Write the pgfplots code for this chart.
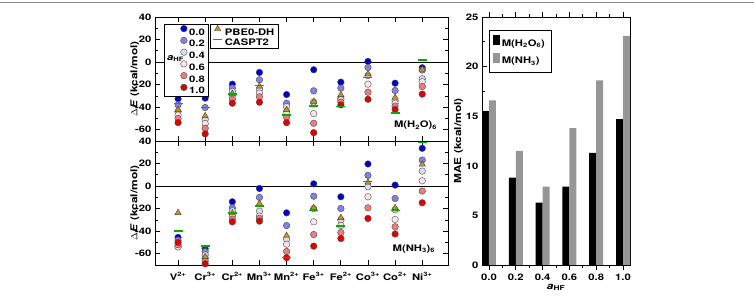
\documentclass[border=0pt]{standalone}
\usepackage{fontspec}
\setmainfont{TeX Gyre Heros}[FakeStretch=1.25]
\usepackage{pgfplots}
\usepackage{pgfplotstable}
\pgfplotsset{compat=1.18}

\definecolor{c00}{RGB}{0,0,200}
\definecolor{c02}{RGB}{130,130,225}
\definecolor{c04}{RGB}{218,218,242}
\definecolor{c06}{RGB}{255,228,228}
\definecolor{c08}{RGB}{236,125,125}
\definecolor{c10}{RGB}{225,0,0}
\definecolor{ctri}{RGB}{205,145,30}
\definecolor{ccas}{RGB}{0,175,0}
\definecolor{cgray}{RGB}{150,150,150}

% columns: x, a_HF = 0.0 ... 1.0, PBE0-DH, CASPT2
\pgfplotstableread{
x a00 a02 a04 a06 a08 a10 pbe cas
0 -32.6 -38.0 -44.0 -47.0 -50.0 -53.7 -42.4 -36.5
1 -32.0 -40.3 -51.0 -54.5 -58.7 -63.7 -47.7 -40.3
2 -19.6 -23.0 -26.0 -30.0 -33.0 -36.5 -28.0 -28.2
3 -9.2 -15.7 -24.0 -27.5 -30.9 -35.6 -21.5 -21.0
4 -28.8 -36.5 -39.5 -44.0 -49.0 -53.7 -42.4 -46.8
5 -6.8 -25.5 -35.5 -45.7 -54.3 -62.6 -35.0 -38.8
6 -17.8 -23.1 -32.0 -33.5 -35.5 -38.0 -29.0 -39.4
7 0.6 -4.8 -12.0 -19.6 -26.7 -33.0 -10.7 -13.7
8 -18.7 -25.2 -34.0 -36.5 -39.0 -42.0 -31.4 -45.3
9 -5.0 -7.0 -14.8 -17.5 -21.7 -28.4 -6.5 2.0
}\water

\pgfplotstableread{
x a00 a02 a04 a06 a08 a10 pbe cas
0 -45.5 -48.0 -53.5 -54.0 -52.0 -50.0 -23.7 -39.7
1 -55.5 -58.0 -61.0 -64.0 -66.5 -69.0 -62.8 -53.3
2 -13.9 -19.3 -22.0 -26.7 -29.3 -31.7 -24.0 -23.7
3 -2.1 -10.0 -22.2 -26.7 -28.7 -31.1 -15.4 -17.8
4 -23.7 -35.0 -47.0 -51.6 -58.0 -63.5 -44.0 -63.4
5 2.0 -9.0 -20.0 -31.7 -43.0 -53.3 -19.3 -21.9
6 -9.5 -19.9 -30.0 -35.0 -41.2 -46.5 -28.1 -35.3
7 19.6 9.5 -0.6 -9.5 -19.3 -28.7 3.3 4.0
8 0.9 -11.0 -21.0 -29.6 -36.1 -42.5 -19.3 -21.6
9 33.5 23.1 13.3 4.7 -4.4 -14.8 19.3 38.5
}\ammonia

\pgfplotsset{
  base/.style={
    scale only axis,
    axis line style={line width=0.9pt},
    every tick/.style={black, line width=0.8pt},
    major tick length=5pt, minor tick length=3pt,
    tick align=inside,
    /pgf/number format/assume math mode=true,
    tick label style={font=\fontsize{9}{10}\selectfont\bfseries},
    label style={font=\fontsize{9.5}{11}\selectfont\bfseries},
  },
  panel/.style={
    base, width=293pt, height=124pt,
    xmin=-0.85, xmax=9.95, ymin=-70, ymax=40,
    xtick={0,...,9}, ytick={-60,-40,...,40}, minor y tick num=1,
    ylabel={$\Delta$\textit{E} (kcal/mol)},
    ylabel style={yshift=-11pt},
  },
  circ/.style={only marks, mark=*, mark size=3.3pt,
    mark options={draw=black!70, line width=0.4pt, fill=#1},
    legend image code/.code={\draw[##1] plot coordinates {(0pt,3.2pt)};}},
  circa/.style={circ=#1,
    legend image code/.code={%
      \draw[##1] plot coordinates {(0pt,3.2pt)};
      \path (-17pt,3.2pt);}},
  tri/.style={only marks, mark=triangle*, mark size=3.6pt,
    mark options={draw=black!75, line width=0.4pt, fill=ctri},
    legend image code/.code={\draw[##1] plot coordinates {(0pt,3.0pt)};}},
  cas/.style={only marks, mark=-, mark size=4.5pt,
    mark options={draw=ccas, line width=1.4pt},
    legend image code/.code={\draw[ccas, line width=1.4pt] (-4.5pt,3.2pt) -- (4.5pt,3.2pt);}},
  leg/.style={legend style={at={(#1,0.944)}, anchor=north west,
    draw=black, line width=0.8pt, fill=white, inner xsep=2pt, inner ysep=1pt,
    row sep=0pt, legend cell align=left,
    nodes={inner sep=2pt, text height=6.5pt, text depth=0pt,
      font=\fontsize{9}{10}\selectfont\bfseries}}},
  barblack/.style={fill=black, draw=none,
    legend image code/.code={\fill[black] (0pt,-1pt) rectangle (6.5pt,9pt);}},
  bargray/.style={fill=cgray, draw=none,
    legend image code/.code={\fill[cgray] (0pt,-1pt) rectangle (6.5pt,9pt);}},
}

\begin{document}
\begin{tikzpicture}
\useasboundingbox (0,0) rectangle (754pt,299pt);
\draw[black!45, line width=1.2pt] (0,296.3pt) -- (754pt,296.3pt);

% ---------- top panel: M(H2O)6 ----------
\begin{axis}[panel, at={(155pt,158pt)}, anchor=south west,
  xticklabels={}, leg=0.031]
\draw[line width=0.8pt] (axis cs:-0.85,0) -- (axis cs:9.95,0);
\addplot[circ=c00] table[x=x,y=a00] {\water};
\addlegendentry{0.0}
\addplot[circ=c02] table[x=x,y=a02] {\water};
\addlegendentry{0.2}
\addplot[circ=c04] table[x=x,y=a04] {\water};
\addlegendentry{0.4}
\addplot[circa=c06] table[x=x,y=a06] {\water};
\addlegendentry{0.6}
\addplot[circ=c08] table[x=x,y=a08] {\water};
\addlegendentry{0.8}
\addplot[circ=c10] table[x=x,y=a10] {\water};
\addlegendentry{1.0}
\node[anchor=base east, font=\fontsize{9}{10}\selectfont\bfseries]
  at (rel axis cs:0.975,0.105) {M(H\textsubscript{2}O)\textsubscript{6}};
\end{axis}

\begin{axis}[panel, at={(155pt,158pt)}, anchor=south west,
  hide axis, leg=0.188]
\addplot[tri] table[x=x,y=pbe] {\water};
\addlegendentry{PBE0-DH}
\addplot[cas] table[x=x,y=cas] {\water};
\addlegendentry{CASPT2}
\node[anchor=base west, inner sep=0pt, font=\fontsize{9}{10}\selectfont\bfseries]
  at (rel axis cs:0.041,0.653) {\textit{a}\textsubscript{HF}};
\end{axis}

% ---------- bottom panel: M(NH3)6 ----------
\begin{axis}[panel, at={(155pt,34pt)}, anchor=south west,
  xticklabel style={yshift=-4pt},
  xticklabels={V\textsuperscript{2+}, Cr\textsuperscript{3+}, Cr\textsuperscript{2+},
    Mn\textsuperscript{3+}, Mn\textsuperscript{2+}, Fe\textsuperscript{3+},
    Fe\textsuperscript{2+}, Co\textsuperscript{3+}, Co\textsuperscript{2+},
    Ni\textsuperscript{3+}}]
\draw[line width=0.8pt] (axis cs:-0.85,0) -- (axis cs:9.95,0);
\addplot[circ=c00] table[x=x,y=a00] {\ammonia};
\addplot[circ=c02] table[x=x,y=a02] {\ammonia};
\addplot[circ=c04] table[x=x,y=a04] {\ammonia};
\addplot[circ=c06] table[x=x,y=a06] {\ammonia};
\addplot[circ=c08] table[x=x,y=a08] {\ammonia};
\addplot[circ=c10] table[x=x,y=a10] {\ammonia};
\addplot[tri] table[x=x,y=pbe] {\ammonia};
\addplot[cas] table[x=x,y=cas] {\ammonia};
\node[anchor=base east, font=\fontsize{9}{10}\selectfont\bfseries]
  at (rel axis cs:0.968,0.107) {M(NH\textsubscript{3})\textsubscript{6}};
\end{axis}

% ---------- right panel: MAE ----------
\begin{axis}[base, at={(482pt,34pt)}, anchor=south west,
  width=148pt, height=248pt,
  ybar, bar width=7pt,
  xmin=-0.052, xmax=1.052, ymin=0, ymax=25,
  xtick={0,0.2,0.4,0.6,0.8,1.0},
  xticklabels={0.0,0.2,0.4,0.6,0.8,1.0},
  minor x tick num=1,
  ytick={0,5,...,25}, minor y tick num=1,
  ylabel={MAE (kcal/mol)},
  ylabel style={yshift=-4pt},
  xlabel={\textit{a}\textsubscript{HF}},
  xlabel style={yshift=3pt},
  legend style={at={(0.047,0.948)}, anchor=north west,
    draw=black, line width=0.8pt, fill=white, inner xsep=4pt, inner ysep=5pt,
    row sep=2.5pt, legend cell align=left,
    nodes={inner sep=2pt, text height=6pt, text depth=1.5pt,
      font=\fontsize{9}{10}\selectfont\bfseries}},
]
\addplot[barblack, bar shift=-3.5pt]
  coordinates {(0,15.5) (0.2,8.8) (0.4,6.3) (0.6,7.9) (0.8,11.3) (1.0,14.7)};
\addlegendentry{M(H\textsubscript{2}O\textsubscript{6})}
\addplot[bargray, bar shift=3.5pt]
  coordinates {(0,16.6) (0.2,11.5) (0.4,7.9) (0.6,13.8) (0.8,18.6) (1.0,23.1)};
\addlegendentry{M(NH\textsubscript{3})}
\end{axis}
\end{tikzpicture}
\end{document}
